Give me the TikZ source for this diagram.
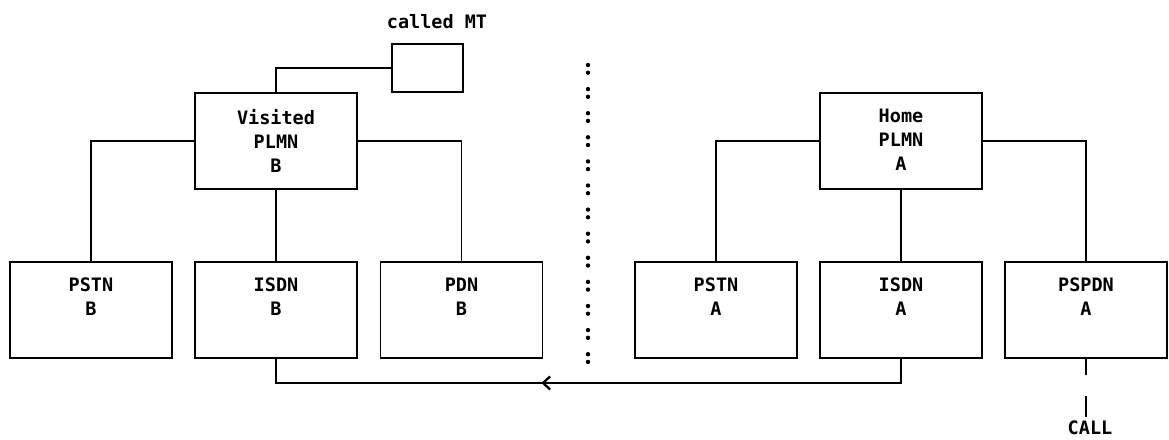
\documentclass[tikz,border=0pt]{standalone}
\usepackage{fontspec}
\newfontfamily\plotfont{DejaVu Sans Mono}
\usetikzlibrary{arrows.meta,positioning,decorations.markings}
\tikzset{
  every node/.style={font=\plotfont\bfseries\fontsize{18.5}{24}\selectfont, text=black},
  netbox/.style={draw=black, line width=1.9pt, minimum width=162pt, minimum height=96pt, inner sep=0pt},
  mtbox/.style={draw=black, line width=1.9pt, minimum width=71pt, minimum height=48pt, inner sep=0pt},
  boxtext/.style={align=center, inner sep=0pt},
  link/.style={draw=black, line width=1.9pt},
  callflow/.style={link, postaction={decorate}, decoration={markings,
      mark=at position 0.57 with {\arrow{Straight Barb[length=7pt,width=13pt,line width=2.3pt]}}}},
  callin/.style={link, dash pattern=on 16pt off 21pt on 30pt},
}
\begin{document}
\begin{tikzpicture}[x=1pt,y=-1pt]
  \useasboundingbox (0,0) rectangle (1169,439);
  % Visited network (B)
  \node[netbox] (visited) at (276,141) {};
  \node[boxtext, below=17pt of visited.north] (visited-t) {Visited\\PLMN\\B};
  \node[mtbox] (mt) at (427.5,68) {};
  \node (mt-t) at (437,22) {called MT};
  \node[netbox] (pstnB) at (91,310) {};
  \node[boxtext, below=17pt of pstnB.north] (pstnB-t) {PSTN\\B};
  \node[netbox] (isdnB) at (276,310) {};
  \node[boxtext, below=17pt of isdnB.north] (isdnB-t) {ISDN\\B};
  \node[netbox] (pdnB) at (461.5,310) {};
  \node[boxtext, below=17pt of pdnB.north] (pdnB-t) {PDN\\B};
  \draw[link] (visited.north) |- (mt.west);
  \draw[link] (visited.west) -| (pstnB.north);
  \draw[link] (visited.south) -- (isdnB.north);
  \draw[link] (visited.east) -| (pdnB.north);
  % Home network (A)
  \node[netbox] (home) at (901,141) {};
  \node[boxtext, below=17pt of home.north] (home-t) {Home\\PLMN\\A};
  \node[netbox] (pstnA) at (716,310) {};
  \node[boxtext, below=17pt of pstnA.north] (pstnA-t) {PSTN\\A};
  \node[netbox] (isdnA) at (901,310) {};
  \node[boxtext, below=17pt of isdnA.north] (isdnA-t) {ISDN\\A};
  \node[netbox] (pspdnA) at (1086,310) {};
  \node[boxtext, below=17pt of pspdnA.north] (pspdnA-t) {PSPDN\\A};
  \draw[link] (home.west) -| (pstnA.north);
  \draw[link] (home.south) -- (isdnA.north);
  \draw[link] (home.east) -| (pspdnA.north);
  % border between the two networks
  \foreach \k in {0,...,12} {
    \fill (588,65+24.1*\k) circle (2.2);
    \fill (588,72.7+24.1*\k) circle (2.2);
  }
  % incoming call and its route
  \node (call) at (1090,428) {CALL};
  \draw[callin] (pspdnA.south) -- (pspdnA.south |- call.north);
  \draw[callflow] (isdnA.south) -- ++(0,24) -| (isdnB.south);
\end{tikzpicture}
\end{document}
